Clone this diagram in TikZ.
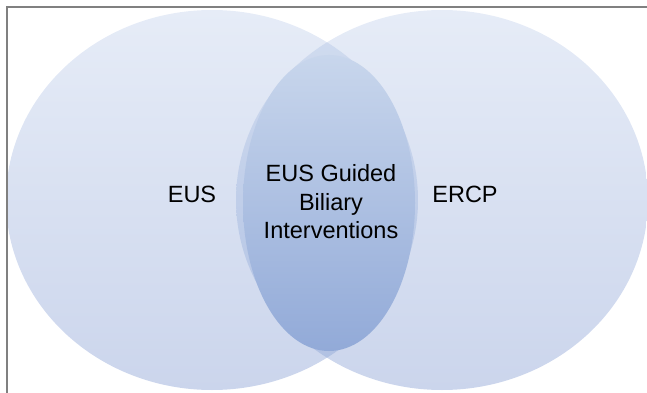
\documentclass[tikz,border=0pt]{standalone}
\usepackage{fontspec}
\setmainfont{Liberation Sans}
\definecolor{circtop}{HTML}{E6ECF7}
\definecolor{circbot}{HTML}{CBD5EC}
\definecolor{lenstop}{HTML}{D2DDF0}
\definecolor{lensbot}{HTML}{AEBFE2}
\definecolor{innertop}{HTML}{C8D6EC}
\definecolor{innerbot}{HTML}{92AAD8}
\definecolor{framegray}{HTML}{808080}
\begin{document}
\begin{tikzpicture}[x=1pt,y=-1pt,
  circshade/.style={top color=circtop,bottom color=circbot},
  lensshade/.style={top color=lenstop,bottom color=lensbot},
  innershade/.style={top color=innertop,bottom color=innerbot},
  label/.style={font=\fontsize{23.5}{28.5}\selectfont,inner sep=0pt,align=center,text=black}]
\useasboundingbox (0,0) rectangle (647,393);
\begin{scope}
\clip (0,0) rectangle (647,393);
% outer circles
\shade[circshade] (212,200) ellipse [x radius=206,y radius=190];
\shade[circshade] (442,200) ellipse [x radius=206,y radius=190];
% overlap lens
\begin{scope}
\clip (212,200) ellipse [x radius=206,y radius=190];
\shade[lensshade] (442,200) ellipse [x radius=206,y radius=190];
\end{scope}
% inner ellipse
\shade[innershade] (329,203) ellipse [x radius=86,y radius=148];
% frame
\draw[framegray,line width=1.2pt] (7,393) -- (7,7) -- (647,7);
\end{scope}
\node[label] (eus) at (192,194) {EUS};
\node[label] (ercp) at (465,194) {ERCP};
\node[label] (mid) at (331,202) {EUS Guided\\Biliary\\Interventions};
\end{tikzpicture}
\end{document}
